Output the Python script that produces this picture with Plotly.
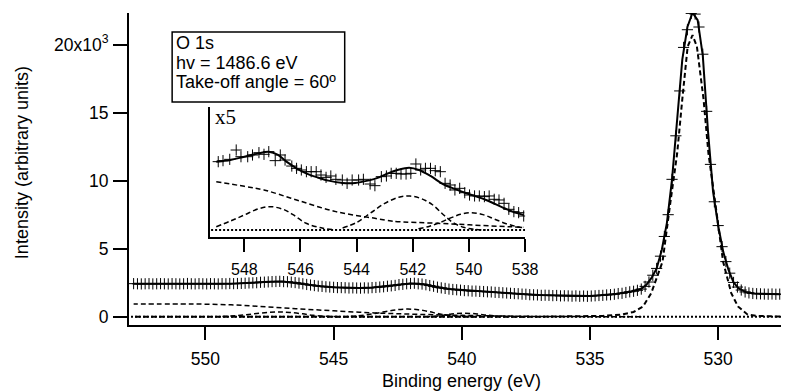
import plotly.graph_objects as go

# ---------------- main spectrum (binding energy in eV, intensity in counts) ----------------
energy = [
    527.60, 527.75, 527.90, 528.05, 528.20, 528.35, 528.50, 528.65, 528.80, 528.95,
    529.10, 529.25, 529.40, 529.55, 529.70, 529.85, 530.00, 530.15, 530.30, 530.45,
    530.60, 530.75, 530.90, 531.05, 531.20, 531.35, 531.50, 531.65, 531.80, 531.95,
    532.10, 532.25, 532.40, 532.55, 532.70, 532.85, 533.00, 533.15, 533.30, 533.45,
    533.60, 533.75, 533.90, 534.05, 534.20, 534.35, 534.50, 534.65, 534.80, 534.95,
    535.10, 535.25, 535.40, 535.55, 535.70, 535.85, 536.00, 536.15, 536.30, 536.45,
    536.60, 536.75, 536.90, 537.05, 537.20, 537.35, 537.50, 537.65, 537.80, 537.95,
    538.10, 538.25, 538.40, 538.55, 538.70, 538.85, 539.00, 539.15, 539.30, 539.45,
    539.60, 539.75, 539.90, 540.05, 540.20, 540.35, 540.50, 540.65, 540.80, 540.95,
    541.10, 541.25, 541.40, 541.55, 541.70, 541.85, 542.00, 542.15, 542.30, 542.45,
    542.60, 542.75, 542.90, 543.05, 543.20, 543.35, 543.50, 543.65, 543.80, 543.95,
    544.10, 544.25, 544.40, 544.55, 544.70, 544.85, 545.00, 545.15, 545.30, 545.45,
    545.60, 545.75, 545.90, 546.05, 546.20, 546.35, 546.50, 546.65, 546.80, 546.95,
    547.10, 547.25, 547.40, 547.55, 547.70, 547.85, 548.00, 548.15, 548.30, 548.45,
    548.60, 548.75, 548.90, 549.05, 549.20, 549.35, 549.50, 549.65, 549.80, 549.95,
    550.10, 550.25, 550.40, 550.55, 550.70, 550.85, 551.00, 551.15, 551.30, 551.45,
    551.60, 551.75, 551.90, 552.05, 552.20, 552.35, 552.50, 552.65, 552.80,
]
intensity = [
    1660, 1650, 1670, 1655, 1665, 1680, 1690, 1710, 1750, 1820,
    1960, 2180, 2520, 3200, 4050, 5150, 6700, 8450, 11200, 15100,
    19300, 21300, 22250, 22300, 21100, 19800, 16600, 13300, 10100, 7500,
    5900, 4450, 3550, 3050, 2550, 2230, 2030, 1940, 1870, 1830,
    1780, 1720, 1700, 1650, 1620, 1600, 1570, 1560, 1540, 1520,
    1500, 1520, 1500, 1530, 1510, 1530, 1540, 1530, 1560, 1550,
    1570, 1580, 1570, 1600, 1610, 1620, 1650, 1660, 1690, 1700,
    1720, 1740, 1760, 1780, 1790, 1820, 1830, 1850, 1860, 1880,
    1880, 1910, 1920, 1950, 1980, 2000, 2030, 2080, 2120, 2170,
    2240, 2290, 2350, 2400, 2420, 2460, 2440, 2420, 2380, 2360,
    2300, 2270, 2240, 2200, 2180, 2150, 2140, 2110, 2120, 2100,
    2110, 2120, 2110, 2130, 2140, 2140, 2160, 2180, 2200, 2230,
    2250, 2290, 2330, 2370, 2420, 2470, 2510, 2540, 2570, 2580,
    2600, 2590, 2580, 2560, 2540, 2530, 2500, 2490, 2480, 2460,
    2450, 2440, 2430, 2440, 2420, 2430, 2410, 2420, 2430, 2410,
    2420, 2430, 2410, 2420, 2440, 2420, 2410, 2420, 2430, 2410,
    2420, 2430, 2420, 2410, 2430, 2420, 2410, 2420, 2430,
]

fit_energy = [527.6, 528.2, 528.6, 528.9, 529.2, 529.4, 529.6, 529.8, 530.0, 530.2,
              530.4, 530.6, 530.8, 531.0, 531.2, 531.4, 531.6, 531.8, 532.0, 532.2,
              532.4, 532.6, 532.8, 533.0, 533.4, 534.0, 535.0, 536.0, 537.0, 538.0,
              539.0, 540.0, 540.5, 541.0, 541.5, 542.0, 542.5, 543.0, 543.5, 544.0,
              544.5, 545.0, 545.5, 546.0, 546.5, 547.0, 547.5, 548.0, 548.5, 549.0,
              550.0, 551.0, 552.0, 552.8]
fit_total = [1660, 1665, 1700, 1790, 2080, 2520, 3450, 4750, 6700, 9200,
             13700, 19200, 21800, 22350, 21300, 18900, 14500, 10100, 6900, 4900,
             3550, 2850, 2350, 2050, 1850, 1670, 1515, 1535, 1595, 1710,
             1835, 1945, 2030, 2190, 2380, 2445, 2340, 2210, 2140, 2105,
             2120, 2160, 2235, 2360, 2510, 2590, 2570, 2505, 2455, 2430,
             2420, 2420, 2420, 2425]

main_peak_energy = [527.6, 528.0, 528.5, 528.85, 529.23, 529.49, 529.81, 530.13, 530.38, 530.57,
                    530.83, 531.0, 531.19, 531.4, 531.6, 531.85, 532.17, 532.61, 532.93, 533.3,
                    533.8, 534.5, 535.5, 537.0, 552.8]
main_peak = [10, 20, 60, 150, 755, 1737, 4054, 8600, 12000, 15982,
             19868, 20700, 19868, 15982, 12000, 8600, 4054, 1737, 755, 350,
             147, 60, 20, 0, 0]

broad_energy = [533.0, 535.0, 537.0, 538.0, 539.0, 540.0, 541.0, 542.0, 543.0, 544.0,
                545.0, 546.0, 547.0, 548.0, 549.0, 550.0, 551.0, 552.8]
broad = [0, 5, 20, 40, 65, 100, 140, 190, 250, 330,
         430, 540, 650, 770, 870, 920, 940, 930]

p547_energy = [544.8, 545.3, 545.8, 546.2, 546.7, 547.1, 547.5, 548.0, 548.5, 549.0, 549.5]
p547 = [0, 30, 100, 210, 310, 350, 320, 230, 130, 50, 0]

p542_energy = [539.5, 540.0, 540.5, 540.9, 541.3, 541.7, 542.1, 542.5, 543.0, 543.5, 544.1, 544.6]
p542 = [0, 20, 90, 220, 380, 510, 560, 520, 370, 200, 60, 0]

p540_energy = [537.5, 538.0, 538.6, 539.0, 539.4, 539.9, 540.4, 540.8, 541.3]
p540 = [0, 10, 50, 110, 200, 260, 200, 80, 0]

baseline_energy = [527.55, 552.98]
baseline = [0, 0]

# ---------------- inset (x5, background removed) ----------------
inset_energy = [548.93, 548.76, 548.52, 548.29, 548.12, 547.88, 547.71, 547.48, 547.30, 547.13,
                546.90, 546.72, 546.55, 546.31, 546.14, 545.97, 545.79, 545.62, 545.44, 545.27,
                545.09, 544.92, 544.74, 544.51, 544.34, 544.16, 543.93, 543.76, 543.52, 543.35,
                543.12, 542.94, 542.77, 542.59, 542.42, 542.24, 542.07, 541.89, 541.72, 541.55,
                541.37, 541.20, 541.02, 540.85, 540.67, 540.50, 540.33, 540.15, 539.98, 539.80,
                539.63, 539.45, 539.28, 539.10, 538.93, 538.75, 538.58, 538.40, 538.23, 538.05]
inset_intensity = [1002, 1017, 1036, 1173, 1075, 1075, 1100, 1134, 1110, 1149,
                   1017, 1100, 1026, 938, 904, 880, 855, 855, 855, 806,
                   772, 792, 743, 733, 684, 733, 733, 743, 674, 650,
                   782, 792, 831, 831, 821, 821, 831, 968, 880, 904,
                   904, 870, 855, 684, 660, 587, 611, 547, 513, 499,
                   499, 489, 499, 450, 440, 391, 303, 269, 254, 205]

inset_fit_energy = [549.0, 548.5, 548.0, 547.5, 547.13, 546.8, 546.5, 546.14, 545.8, 545.4,
                    545.0, 544.5, 544.05, 543.6, 543.2, 542.88, 542.54, 542.13, 541.78, 541.37,
                    540.91, 540.56, 540.09, 539.39, 538.81, 538.35, 538.05]
inset_fit = [1002, 1026, 1075, 1124, 1148, 1100, 1002, 904, 831, 772,
             724, 690, 690, 724, 772, 831, 880, 914, 880, 792,
             670, 611, 538, 440, 332, 254, 220]

inset_broad_energy = [549.0, 548.0, 547.3, 546.14, 544.74, 543.35, 542.77, 542.54, 541.14, 538.58, 538.05]
inset_broad = [708, 640, 587, 440, 269, 171, 132, 122, 98, 48, 40]

inset_p547_energy = [549.0, 548.5, 548.0, 547.5, 547.07, 546.6, 546.25, 545.8, 545.2, 544.7]
inset_p547 = [48, 130, 220, 310, 342, 300, 220, 98, 25, 0]

inset_p542_energy = [544.5, 544.0, 543.5, 543.0, 542.5, 542.1, 541.7, 541.3, 540.9, 540.56, 540.2, 539.8, 539.4]
inset_p542 = [30, 110, 250, 390, 480, 498, 460, 370, 220, 107, 40, 10, 0]

inset_p540_energy = [541.8, 541.4, 541.0, 540.6, 540.3, 539.92, 539.5, 539.1, 538.7, 538.3, 538.05]
inset_p540 = [20, 55, 115, 185, 230, 254, 225, 160, 95, 50, 32]

inset_baseline_energy = [538.0, 549.21]
inset_baseline = [0, 0]

# ---------------- figure ----------------
DASH = "5px,3px"
DOT = "2px,2px"
FONT = "Liberation Sans, Arial, sans-serif"

fig = go.Figure()

def line(x, y, dash, width, xa="x", ya="y", shape="linear"):
    fig.add_trace(go.Scatter(x=x, y=y, mode="lines", xaxis=xa, yaxis=ya,
                             line=dict(color="black", width=width, dash=dash, shape=shape),
                             hoverinfo="skip", showlegend=False))

# main components
line(baseline_energy, baseline, DOT, 2)
line(broad_energy, broad, DASH, 1.5, shape="spline")
line(p547_energy, p547, DASH, 1.5, shape="spline")
line(p542_energy, p542, DASH, 1.5, shape="spline")
line(p540_energy, p540, DASH, 1.5, shape="spline")
line(main_peak_energy, main_peak, DASH, 2)
fig.add_trace(go.Scatter(x=energy, y=intensity, mode="markers",
                         marker=dict(symbol="cross-thin", size=8, line=dict(color="black", width=1)),
                         hoverinfo="skip", showlegend=False))
line(fit_energy, fit_total, "solid", 2)

# inset components
line(inset_baseline_energy, inset_baseline, DOT, 2, "x2", "y2")
line(inset_broad_energy, inset_broad, DASH, 1.5, "x2", "y2", "spline")
line(inset_p547_energy, inset_p547, DASH, 1.5, "x2", "y2", "spline")
line(inset_p542_energy, inset_p542, DASH, 1.5, "x2", "y2", "spline")
line(inset_p540_energy, inset_p540, DASH, 1.5, "x2", "y2", "spline")
fig.add_trace(go.Scatter(x=inset_energy, y=inset_intensity, mode="markers", xaxis="x2", yaxis="y2",
                         marker=dict(symbol="cross-thin", size=8, line=dict(color="black", width=1)),
                         hoverinfo="skip", showlegend=False))
line(inset_fit_energy, inset_fit, "solid", 2, "x2", "y2", "spline")

L, R, T, B = 129, 0, 13, 67
W, H = 794, 392
PW, PH = W - L - R, H - T - B

def px(x):
    return (x - L) / PW

def py(y):
    return (H - B - y) / PH

fig.update_layout(
    width=W, height=H,
    margin=dict(l=L, r=R, t=T, b=B, pad=0),
    paper_bgcolor="white", plot_bgcolor="white",
    font=dict(family=FONT, color="black", size=17.5),
    xaxis=dict(range=[552.98, 527.55], domain=[0, 1], tickvals=[550, 545, 540, 535, 530],
               ticks="outside", ticklen=13, tickwidth=2, tickcolor="black",
               showline=True, linewidth=2, linecolor="black", showgrid=False, zeroline=False,
               tickfont=dict(size=17.5), ticklabelstandoff=4),
    yaxis=dict(range=[-610, 22330], domain=[0, 1],
               tickvals=[0, 5000, 10000, 15000, 20000],
               ticktext=["0", "5", "10", "15", "20x10<sup>3</sup>"],
               ticks="outside", ticklen=14, tickwidth=2, tickcolor="black",
               showline=True, linewidth=2, linecolor="black", showgrid=False, zeroline=False,
               tickfont=dict(size=17.5), ticklabelstandoff=1),
    xaxis2=dict(range=[549.21, 538.0], domain=[px(212), px(533)], anchor="y2",
                tickvals=[548, 546, 544, 542, 540, 538],
                ticks="outside", ticklen=13, tickwidth=2, tickcolor="black",
                showline=True, linewidth=2, linecolor="black", showgrid=False, zeroline=False,
                tickfont=dict(size=16), ticklabelstandoff=4),
    yaxis2=dict(range=[-103, 1804], domain=[py(237), py(107)], anchor="x2",
                showline=True, linewidth=2, linecolor="black", showgrid=False, zeroline=False,
                showticklabels=False, ticks=""),
)

annotations = [
    dict(text="Binding energy (eV)", x=px(468), y=py(381), xref="paper", yref="paper",
         xanchor="center", yanchor="middle", showarrow=False, font=dict(size=18)),
    dict(text="Intensity (arbitrary units)", x=px(20), y=py(163), xref="paper", yref="paper",
         xanchor="center", yanchor="middle", textangle=-90, showarrow=False, font=dict(size=18)),
    dict(text="x5", x=px(215), y=py(117), xref="paper", yref="paper",
         xanchor="left", yanchor="middle", showarrow=False,
         font=dict(size=21, family="Liberation Serif, Times New Roman, serif")),
]
for txt, yc in [("O 1s", 43), ("hv = 1486.6 eV", 62.5), ("Take-off angle = 60º", 81.5)]:
    annotations.append(dict(text=txt, x=px(175), y=py(yc), xref="paper", yref="paper",
                            xanchor="left", yanchor="middle", showarrow=False, font=dict(size=18)))
fig.update_layout(annotations=annotations)

fig.add_shape(type="rect", xref="paper", yref="paper",
              x0=px(173), x1=px(349), y0=py(102), y1=py(32),
              line=dict(color="black", width=1.5), fillcolor="rgba(0,0,0,0)")

fig.write_html("out.html")
